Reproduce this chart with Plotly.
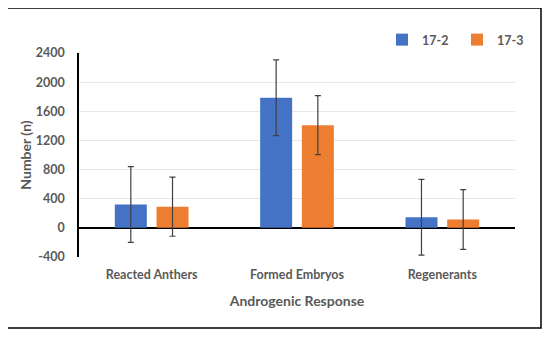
import plotly.graph_objects as go

categories = ["Reacted Anthers", "Formed Embryos", "Regenerants"]
series_names = ["17-2", "17-3"]
values_17_2 = [320, 1785, 145]
values_17_3 = [290, 1410, 115]
err_17_2 = [520, 520, 520]
err_17_3 = [405, 405, 410]
y_ticks = [-400, 0, 400, 800, 1200, 1600, 2000, 2400]
y_tick_labels = ["-400", "0", "400", "800", "1200", "1600", "2000", "2400"]

FONT = "Lato"
GRAY = "#595959"

fig = go.Figure()
for name, vals, errs, color in [
    (series_names[0], values_17_2, err_17_2, "#4472C4"),
    (series_names[1], values_17_3, err_17_3, "#ED7D31"),
]:
    fig.add_trace(go.Bar(
        x=categories, y=vals, name=name, marker=dict(color=color, line=dict(width=0)),
        error_y=dict(type="data", array=errs, visible=True, color="#404040",
                     thickness=1.2, width=3),
    ))

# page body margin offset (default 8px) compensated
OFF = 8
W, H = 550 - OFF, 339 - OFF
# plot area in page pixels: x 79..515, y 53..257
L, T = 79 - OFF, 53 - OFF
R, B = W - (515 - OFF), H - (257 - OFF)
pw, ph = W - L - R, H - T - B

def px_x(x):
    return (x - OFF - L) / pw

def px_y(y):
    return 1 - (y - OFF - T) / ph

fig.update_layout(
    width=W, height=H,
    margin=dict(l=L, r=R, t=T, b=B, autoexpand=False),
    paper_bgcolor="white", plot_bgcolor="white",
    barmode="group", bargap=0.426, bargroupgap=0.233,
    font=dict(family=FONT, color=GRAY, size=12, weight="bold"),
    showlegend=True,
    legend=dict(orientation="h", x=px_x(382), y=px_y(40), xanchor="left", yanchor="middle",
                font=dict(size=12.5, color=GRAY, family=FONT, weight="bold"),
                itemwidth=30, entrywidth=30, entrywidthmode="pixels",
                traceorder="normal", bgcolor="rgba(0,0,0,0)"),
    xaxis=dict(showline=False, ticks="outside", ticklen=6, tickcolor="rgba(0,0,0,0)",
               tickfont=dict(size=12.5, color=GRAY, weight="bold"),
               title=dict(text="Androgenic Response", font=dict(size=14, color=GRAY, weight="bold"),
                          standoff=15),
               showgrid=False),
    yaxis=dict(range=[-400, 2400], tickvals=y_ticks, ticktext=y_tick_labels,
               showgrid=True, gridcolor="#E6E6E6",
               gridwidth=1, showline=True, linecolor="black", linewidth=1.5,
               zeroline=True, zerolinecolor="black", zerolinewidth=1.5,
               ticks="outside", ticklen=10, tickcolor="rgba(0,0,0,0)",
               tickfont=dict(size=12.5, color=GRAY, weight="bold"),
               title=dict(text="Number (n)", font=dict(size=14, color=GRAY, weight="bold"),
                          standoff=1)),
    shapes=[dict(type="rect", xref="paper", yref="paper",
                 x0=px_x(7), x1=px_x(541), y0=px_y(328), y1=px_y(8),
                 line=dict(color="black", width=1.5), fillcolor="rgba(0,0,0,0)", layer="below")],
)

fig.write_html("out.html")
